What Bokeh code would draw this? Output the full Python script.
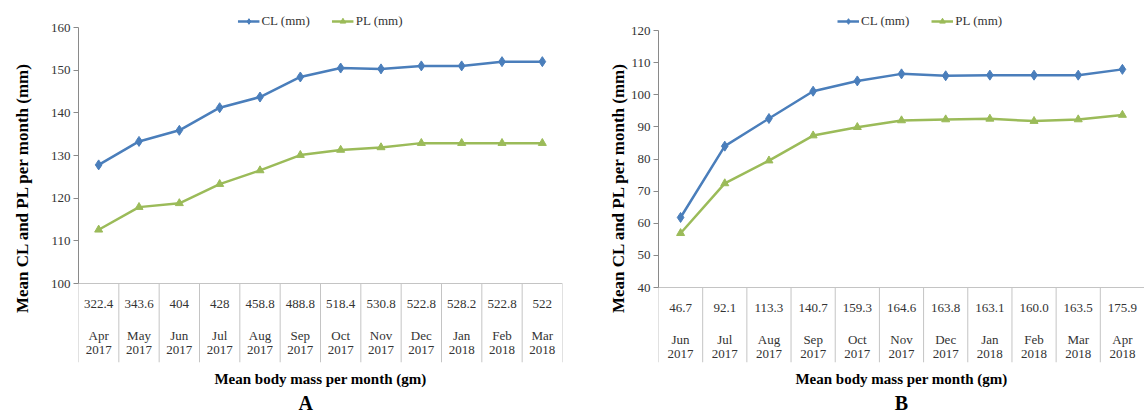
import numpy as np
from bokeh.plotting import figure
from bokeh.models import Range1d, FixedTicker, Title
from bokeh.layouts import row
from bokeh.embed import file_html
from bokeh.resources import INLINE
from bokeh.core.properties import value

# ---------------- Panel A data ----------------
a_months = ["Apr", "May", "Jun", "Jul", "Aug", "Sep", "Oct", "Nov", "Dec", "Jan", "Feb", "Mar"]
a_years = ["2017", "2017", "2017", "2017", "2017", "2017", "2017", "2017", "2017", "2018", "2018", "2018"]
a_mass = ["322.4", "343.6", "404", "428", "458.8", "488.8", "518.4", "530.8", "522.8", "528.2", "522.8", "522"]
a_cl = [127.8, 133.3, 135.9, 141.2, 143.7, 148.4, 150.5, 150.3, 151.0, 151.0, 152.0, 152.0]
a_pl = [112.6, 117.9, 118.8, 123.3, 126.5, 130.1, 131.3, 131.9, 132.9, 132.9, 132.9, 132.9]
a_yticks = [100, 110, 120, 130, 140, 150, 160]

# ---------------- Panel B data ----------------
b_months = ["Jun", "Jul", "Aug", "Sep", "Oct", "Nov", "Dec", "Jan", "Feb", "Mar", "Apr"]
b_years = ["2017", "2017", "2017", "2017", "2017", "2017", "2017", "2018", "2018", "2018", "2018"]
b_mass = ["46.7", "92.1", "113.3", "140.7", "159.3", "164.6", "163.8", "163.1", "160.0", "163.5", "175.9"]
b_cl = [61.8, 84.0, 92.6, 101.1, 104.3, 106.5, 105.9, 106.1, 106.1, 106.1, 107.9]
b_pl = [56.9, 72.4, 79.5, 87.3, 89.9, 92.0, 92.3, 92.5, 91.8, 92.3, 93.7]
b_yticks = [40, 50, 60, 70, 80, 90, 100, 110, 120]

BLUE = "#4a7ebb"
GREEN = "#9bbb59"
FONT = "Liberation Serif"
GRID = "#c4c4c4"
AXIS = "#8a8a8a"
TXT = "#333333"


def panel(months, years, mass, cl, pl, yticks, letter, frame_w, border_left,
          border_right, label_standoff, above_px, axis_px, legend_loc, letter_align,
          letter_offset):
    n = len(months)
    frame_h = 350
    below_px = frame_h - above_px - axis_px
    ymin, ymax = yticks[0], yticks[-1]
    scale = axis_px / (ymax - ymin)
    y0 = ymin - below_px / scale
    y1 = ymax + above_px / scale

    p = figure(frame_width=frame_w, frame_height=frame_h, output_backend="svg",
               toolbar_location=None,
               x_range=Range1d(0, n), y_range=Range1d(y0, y1),
               min_border_left=border_left, min_border_right=border_right,
               min_border_top=12, min_border_bottom=50)
    p.outline_line_color = None
    p.grid.grid_line_color = None
    p.background_fill_color = "white"

    xs = np.arange(n) + 0.5

    # table lines
    bounds = np.arange(n + 1)
    p.segment(x0=bounds, x1=bounds, y0=[y0] * (n + 1), y1=[ymin] * (n + 1),
              line_color=GRID, line_width=1)
    p.segment(x0=[0], x1=[n], y0=[ymin], y1=[ymin], line_color=GRID, line_width=1.2)

    # table texts
    def row_y(px):
        return [ymin - px / scale] * n

    p.text(x=xs, y=row_y(20), text=mass, text_font=value(FONT), text_font_size="13px",
           text_align="center", text_baseline="middle", text_color=TXT)
    p.text(x=xs, y=row_y(52), text=months, text_font=value(FONT), text_font_size="13px",
           text_align="center", text_baseline="middle", text_color=TXT)
    p.text(x=xs, y=row_y(66), text=years, text_font=value(FONT), text_font_size="13px",
           text_align="center", text_baseline="middle", text_color=TXT)

    # series
    p.line(xs, cl, line_color=BLUE, line_width=2.5, legend_label="CL (mm)")
    p.scatter(xs, cl, marker="diamond", size=10, fill_color=BLUE, line_color=BLUE,
              legend_label="CL (mm)")
    p.line(xs, pl, line_color=GREEN, line_width=2.5, legend_label="PL (mm)")
    p.scatter(xs, pl, marker="triangle", size=8, fill_color=GREEN, line_color=GREEN,
              legend_label="PL (mm)")

    # y axis
    ya = p.yaxis[0]
    ya.ticker = FixedTicker(ticks=yticks)
    ya.bounds = (ymin, ymax)
    ya.axis_line_color = AXIS
    ya.major_tick_line_color = AXIS
    ya.major_tick_out = 5
    ya.major_tick_in = 0
    ya.minor_tick_line_color = None
    ya.major_label_standoff = 3
    ya.major_label_text_font = FONT
    ya.major_label_text_font_size = "13px"
    ya.major_label_text_color = TXT
    ya.axis_label = "Mean CL and PL per month (mm)"
    ya.axis_label_text_font = FONT
    ya.axis_label_text_font_style = "bold"
    ya.axis_label_text_font_size = "17px"
    ya.axis_label_text_color = "black"
    ya.axis_label_standoff = label_standoff

    # x axis (title only)
    xa = p.xaxis[0]
    xa.ticker = FixedTicker(ticks=[])
    xa.axis_line_color = None
    xa.major_tick_line_color = None
    xa.minor_tick_line_color = None
    xa.major_label_standoff = 0
    xa.axis_label = "Mean body mass per month (gm)"
    xa.axis_label_text_font = FONT
    xa.axis_label_text_font_style = "bold"
    xa.axis_label_text_font_size = "15px"
    xa.axis_label_text_color = "black"
    xa.axis_label_standoff = 8

    p.add_layout(Title(text=letter, align=letter_align, text_font=FONT,
                       text_font_size="20px", text_font_style="bold",
                       text_color="black", standoff=0, offset=letter_offset), "below")

    lg = p.legend[0]
    lg.location = legend_loc
    lg.orientation = "horizontal"
    lg.border_line_color = None
    lg.background_fill_alpha = 0
    lg.label_text_font = FONT
    lg.label_text_font_size = "13px"
    lg.label_text_color = TXT
    lg.glyph_width = 22
    lg.glyph_height = 14
    lg.label_height = 14
    lg.label_standoff = 2
    lg.spacing = 22
    lg.padding = 0
    lg.margin = 1
    return p


pA = panel(a_months, a_years, a_mass, a_cl, a_pl, a_yticks, "A", 484, 78, 8, 16,
           15, 256, "top_center", "left", 220)
pB = panel(b_months, b_years, b_mass, b_cl, b_pl, b_yticks, "B", 486, 88, 0, 0,
           18, 257, (179, 333), "center", 0)

layout = row(pA, pB)
open("out.html", "w").write(file_html(layout, INLINE))
